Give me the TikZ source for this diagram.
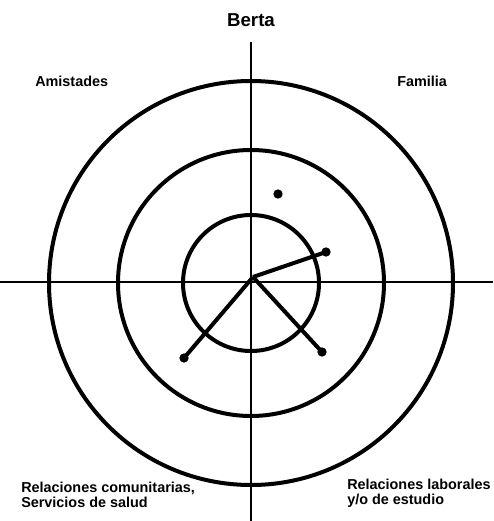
\documentclass[tikz,border=0pt]{standalone}
\usepackage{fontspec}
\setmainfont{Liberation Sans}
\usepackage{tikz}
\usetikzlibrary{calc}

\tikzset{
  ring/.style={line width=3pt},
  axis/.style={line width=1.8pt},
  tie/.style={line width=3pt},
  person/.style={circle,fill=black,inner sep=0pt,minimum size=7pt},
  zonelabel/.style={inner sep=0.75pt,font=\fontsize{10.8}{11}\selectfont\bfseries,align=left},
}

\begin{document}
\begin{tikzpicture}[x=0.75pt,y=0.75pt,yscale=-1,xscale=1]
\useasboundingbox (0,0) rectangle (493,521);

%Circles
\draw [ring] (251,283) circle (202);
\draw [ring] (251,283) circle (133);
\draw [ring] (251,283) circle (68);

%Straight Lines
\draw [axis] (251,42) -- (251,521);
\draw [axis] (0,282) -- (493,282);

%Centre and contacts
\coordinate (berta) at (253,277);
\node [person] (fam1) at (278,194) {};
\node [person] (fam2) at (326,252) {};
\node [person] (com1) at (184,358) {};
\node [person] (lab1) at (322,352) {};
\draw [tie] (berta) -- (fam2.center);
\draw [tie] (berta) -- (com1.center);
\draw [tie] (berta) -- (lab1.center);

% Text Node
\draw (251,20) node [zonelabel,font=\fontsize{14}{16}\selectfont\bfseries] (title) {Berta};
% Text Node
\draw (34,81) node [zonelabel,anchor=west] (amis) {Amistades};
% Text Node
\draw (396,81) node [zonelabel,anchor=west] (fami) {Familia};
% Text Node
\draw (20,495) node [zonelabel,anchor=west] (comu) {Relaciones comunitarias,\\Servicios de salud};
% Text Node
\draw (346,493) node [zonelabel,anchor=west] (labo) {Relaciones laborales\\y/o de estudio};

\end{tikzpicture}
\end{document}
